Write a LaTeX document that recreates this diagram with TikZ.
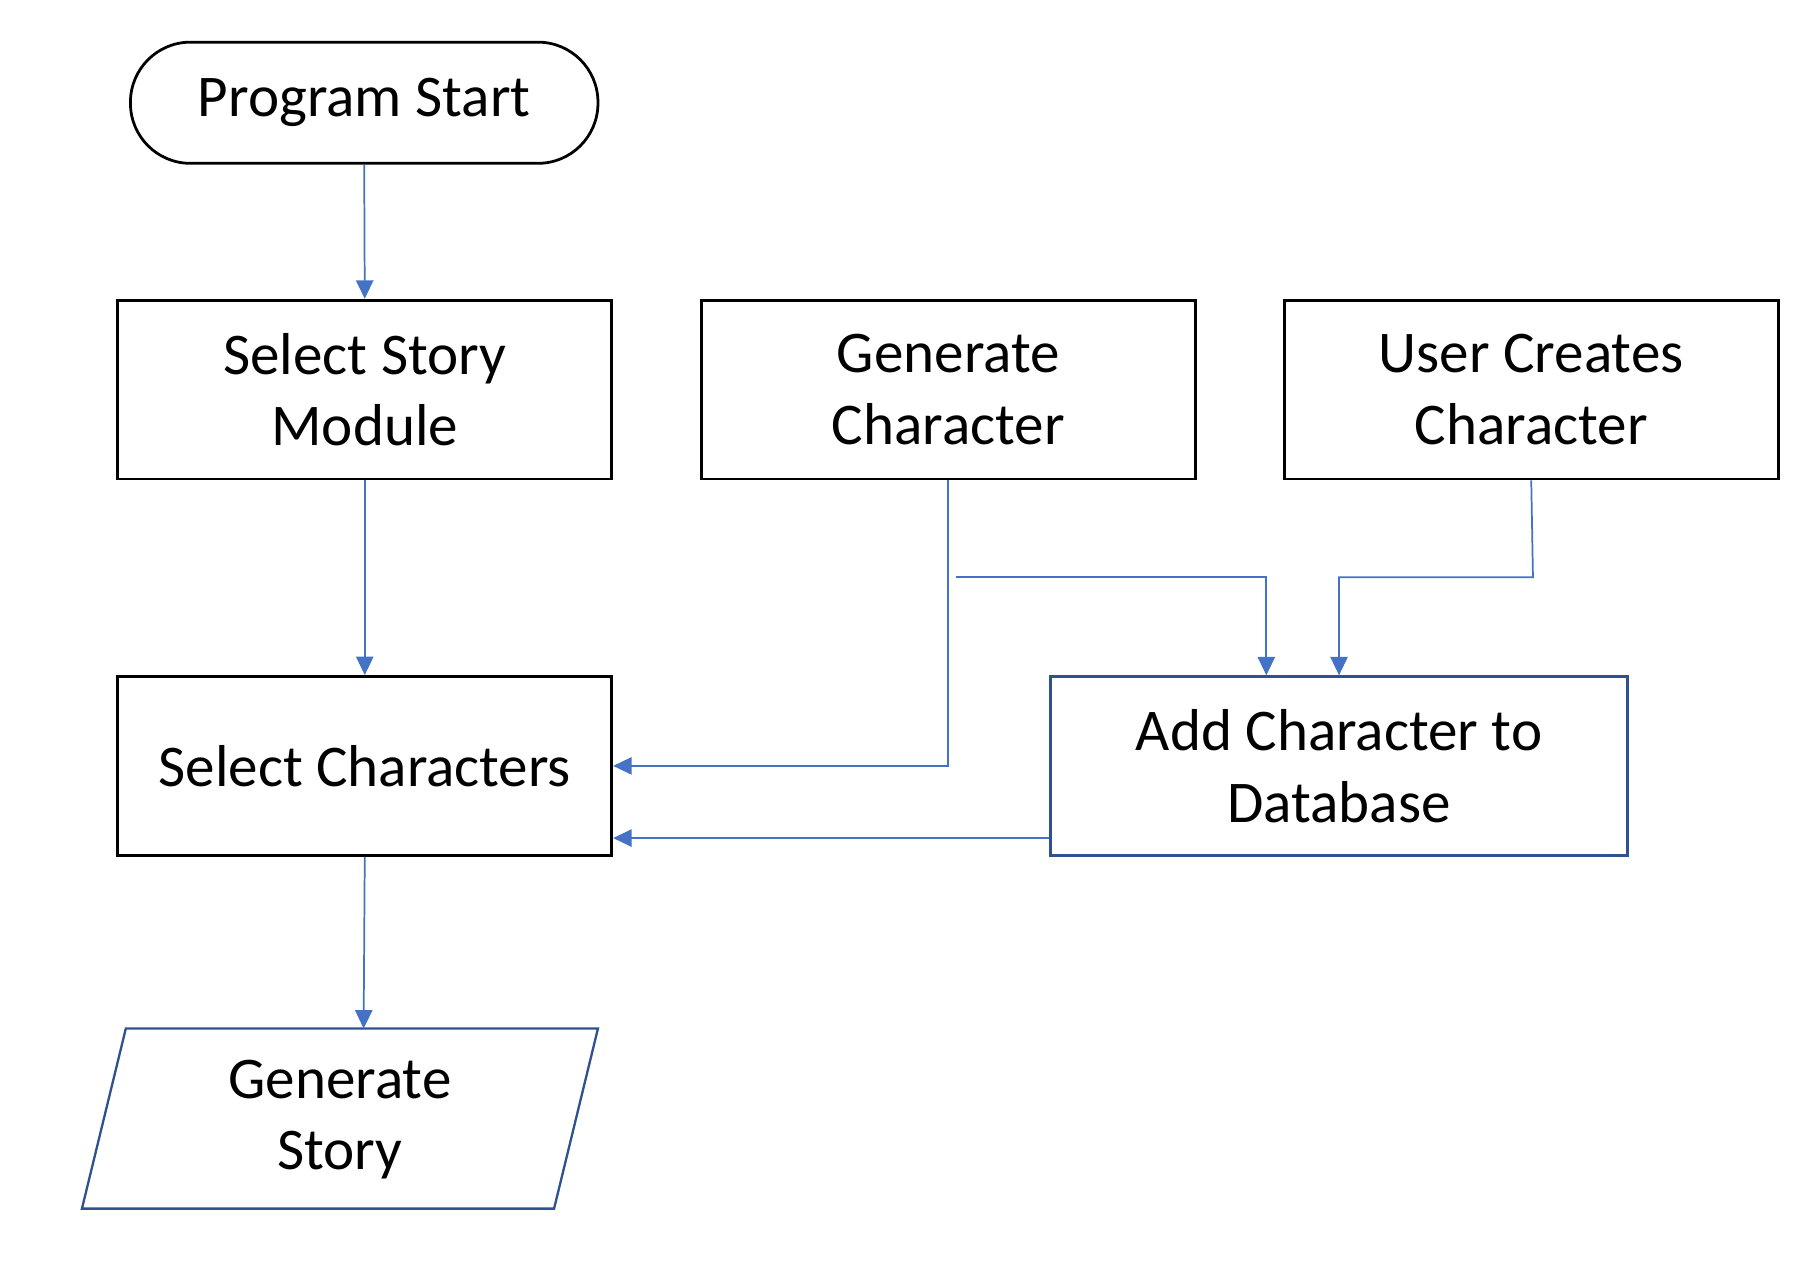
\documentclass[tikz,border=0pt]{standalone}
\usepackage{fontspec}
\setmainfont{Carlito}
\usetikzlibrary{arrows.meta,calc}
\definecolor{conn}{HTML}{4472C4}
\definecolor{dkblue}{HTML}{2F528F}
\tikzset{
  box/.style={draw=black, line width=1.2pt, minimum width=214pt, minimum height=77.5pt,
    align=center, inner sep=2pt, font=\fontsize{25.6}{31}\selectfont},
  bluebox/.style={box, draw=dkblue, line width=1pt},
  term/.style={box, minimum width=202.5pt, minimum height=52.5pt, rounded corners=26pt},
  arr/.style={draw=conn, line width=0.75pt, -{Triangle[length=8pt,width=7.5pt]}},
  ln/.style={draw=conn, line width=0.75pt},
  lbl/.style={align=center, font=\fontsize{25.6}{31}\selectfont, inner sep=0pt}
}
\begin{document}
\begin{tikzpicture}[x=0.5pt,y=-0.5pt]
\useasboundingbox[fill=white] (0,0) rectangle (1568,1110);

\node[term] (ps) at (315.5,89) {Program Start};
\node[box] (ssm) at (316,337.5) {Select Story\\Module};
\node[box] (gc) at (821.5,337.5) {Generate\\Character};
\node[box] (uc) at (1326.5,337.5) {User Creates\\Character};
\node[box] (sc) at (316,663.5) {Select Characters};
\node[bluebox, minimum width=250pt] (acd) at (1160,663.5) {Add Character to\\Database};

% Generate Story parallelogram
\draw[dkblue, line width=1pt] (71,1047) -- (109,891) -- (518,891) -- (480,1047) -- cycle;
\node[lbl] (gs) at (294.5,970) {Generate\\Story};
\coordinate (gstop) at (315,891);

% connectors
\draw[arr] (ps.south) -- (ssm.north);
\draw[arr] (ssm.south) -- (sc.north);
\draw[arr] (sc.south) -- (gstop);
\draw[arr] (gc.south) |- (sc.east);

\coordinate (j1) at (828,500);
\coordinate (t1) at ($(acd.north west)+(188,0)$);
\draw[arr] (j1) -| (t1);

\coordinate (k1) at (1328,500);
\draw[arr] (uc.south) -- (k1) -| (acd.north);

\coordinate (q) at ($(acd.south west)+(0,-16)$);
\draw[arr] (q) -- (sc.east |- q);
\end{tikzpicture}
\end{document}
